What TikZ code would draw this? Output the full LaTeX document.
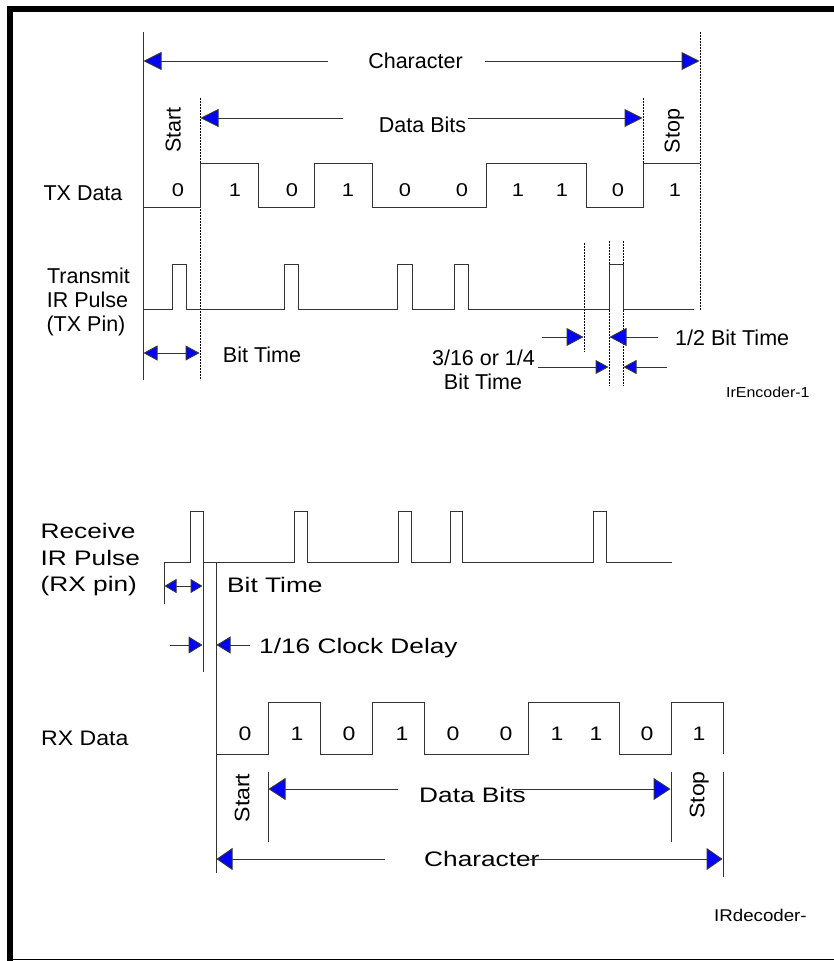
\documentclass[tikz,border=0pt]{standalone}
\usepackage{fontspec}
\setmainfont{Liberation Sans}
\newfontfamily\arialf{Liberation Sans}
\newfontfamily\arialw[FakeStretch=1.25]{Liberation Sans}
\newfontfamily\ariald[FakeStretch=1.18]{Liberation Sans}
\newfontfamily\arialm[FakeStretch=1.1]{Liberation Sans}
\usetikzlibrary{arrows.meta}
\tikzset{
  ln/.style={line width=1pt, draw=black!80},
  dsh/.style={line width=1pt, draw=black, dash pattern=on 2pt off 1pt},
  arr/.style 2 args={ln, -{Triangle[length=#1pt,width=#2pt,fill=blue]}},
  darr/.style 2 args={ln, {Triangle[length=#1pt,width=#2pt,fill=blue]}-{Triangle[length=#1pt,width=#2pt,fill=blue]}},
  tt/.style={inner sep=0pt, font=\arialf\fontsize{21.5}{24}\selectfont},
  td/.style={inner sep=0pt, font=\ariald\fontsize{18.5}{20}\selectfont},
  bt/.style={inner sep=0pt, font=\arialw\fontsize{21}{24}\selectfont},
  bd/.style={inner sep=0pt, font=\ariald\fontsize{19.5}{21}\selectfont},
  bm/.style={inner sep=0pt, font=\arialm\fontsize{21}{24}\selectfont},
  sm/.style={inner sep=0pt, font=\arialm\fontsize{14.5}{16}\selectfont},
  smb/.style={inner sep=0pt, font=\arialm\fontsize{17}{18}\selectfont},
}
\begin{document}
\begin{tikzpicture}[x=1pt,y=-1pt]
\useasboundingbox (0,0) rectangle (834,961);
\fill[white] (0,0) rectangle (834,961);
% frame
\fill[black] (7,6) rectangle (834,12);
\fill[black] (7,6) rectangle (13,961);
\draw[line width=1.5pt] (7,959.25) -- (834,959.25);

% ================= TOP (encoder) =================
% reference verticals
\draw[ln] (143,32) -- (143,380);
\draw[dsh] (200,98) -- (200,380);
\draw[dsh] (643,98) -- (643,207);
\draw[dsh] (700,32) -- (700,310);
\draw[dsh] (584,243) -- (584,352);
\draw[dsh] (609,241) -- (609,386);
\draw[dsh] (623,241) -- (623,386);

% Character arrow
\node[tt, anchor=base] (tchar) at (415.5,68.5) {Character};
\draw[arr={18}{18}] (328,61) -- (143.5,61);
\draw[arr={18}{18}] (485,61) -- (699.5,61);
% Data bits arrow
\node[tt, anchor=base] (tdata) at (422.5,132.5) {Data Bits};
\draw[arr={18}{18}] (343,118) -- (200.5,118);
\draw[arr={18}{18}] (468,118) -- (642.5,118);
% Start / Stop
\node[tt, rotate=90, text depth=0pt] (tstart) at (173,130) {Start};
\node[tt, rotate=90, text depth=0pt] (tstop) at (672,131) {Stop};

% TX data
\node[tt, anchor=base] (txdata) at (83,200) {TX Data};
\draw[ln] (143,207) -- (200,207) -- (200,163) -- (258,163) -- (258,207) -- (314,207)
  -- (314,163) -- (372,163) -- (372,207) -- (486,207) -- (486,163) -- (586,163)
  -- (586,207) -- (643,207) -- (643,163) -- (700,163);
\foreach \x/\d [count=\i] in {178/0,235/1,292/0,348/1,405/0,462/0,518/1,562/1,618/0,675/1}
  \node[td, anchor=base] (tb\i) at (\x,196.5) {\d};

% TX IR pulse
\node[tt, anchor=base] (tx1) at (88.5,283) {Transmit};
\node[tt, anchor=base] (tx2) at (87.5,307) {IR Pulse};
\node[tt, anchor=base] (tx3) at (86,331) {(TX Pin)};
\draw[ln] (143,309) -- (172,309) -- (172,264) -- (186,264) -- (186,309) -- (284,309)
  -- (284,264) -- (298,264) -- (298,309) -- (397,309) -- (397,264) -- (412,264)
  -- (412,309) -- (454,309) -- (454,264) -- (468,264) -- (468,309) -- (609,309)
  -- (609,264) -- (623,264) -- (623,309) -- (694,309);

% Bit time
\draw[darr={14}{15}] (143.5,353) -- (199.5,353);
\node[tt, anchor=base] (tbit) at (262,362) {Bit Time};

% 1/2 bit time
\draw[arr={17}{18}] (542,337) -- (583.5,337);
\draw[arr={17}{18}] (658,337) -- (609.5,337);
\node[tt, anchor=base west] (thalf) at (675,345) {1/2 Bit Time};
% 3/16 bit time
\draw[arr={13}{14}] (538,367) -- (608.5,367);
\draw[arr={13}{14}] (667,367) -- (623.5,367);
\node[tt, anchor=base] (t316) at (483.5,365) {3/16 or 1/4};
\node[tt, anchor=base] (t316b) at (483,389) {Bit Time};

\node[sm, anchor=base west] (enc) at (726,397) {IrEncoder-1};

% ================= BOTTOM (decoder) =================
\node[bt, anchor=base west] (rx1) at (40.5,538) {Receive};
\node[bt, anchor=base west] (rx2) at (40.5,565) {IR Pulse};
\node[bt, anchor=base west] (rx3) at (40.5,591) {(RX pin)};

\draw[ln] (164,562) -- (190,562) -- (190,511) -- (203,511) -- (203,562) -- (294,562)
  -- (294,511) -- (307,511) -- (307,562) -- (398,562) -- (398,511) -- (411,511)
  -- (411,562) -- (450,562) -- (450,511) -- (462,511) -- (462,562) -- (593,562)
  -- (593,511) -- (606,511) -- (606,562) -- (672,562);

\draw[ln] (164,562) -- (164,604);
\draw[ln] (203,562) -- (203,672);
\draw[ln] (216,563) -- (216,873);

\draw[darr={12}{14}] (164.5,586) -- (202.5,586);
\node[bt, anchor=base west] (rbit) at (227,592) {Bit Time};

\draw[arr={14}{17}] (170,645) -- (202.5,645);
\draw[arr={14}{17}] (250,645) -- (216.5,645);
\node[bt, anchor=base west] (rclk) at (259,653) {1/16 Clock Delay};

% RX data
\node[bm, anchor=base west] (rxdata) at (41,745) {RX Data};
\draw[ln] (216,754) -- (268,754) -- (268,702) -- (320,702) -- (320,754) -- (372,754)
  -- (372,702) -- (424,702) -- (424,754) -- (528,754) -- (528,702) -- (619,702)
  -- (619,754) -- (671,754) -- (671,702) -- (723,702) -- (723,754);
\foreach \x/\d [count=\i] in {245/0,297/1,349/0,402/1,453/0,506/0,557/1,596/1,647/0,699/1}
  \node[bd, anchor=base] (rb\i) at (\x,740) {\d};

\draw[ln] (268,772) -- (268,842);
\draw[ln] (671,772) -- (671,842);
\draw[ln] (723,772) -- (723,877);

\node[bm, rotate=90, text depth=0pt] (rstart) at (242,798) {Start};
\node[bm, rotate=90, text depth=0pt] (rstop) at (697,795) {Stop};

\node[bt, anchor=base west] (rdata) at (419,802.5) {Data Bits};
\draw[arr={17}{22}] (398,789) -- (268.5,789);
\draw[arr={17}{22}] (512,789) -- (670.5,789);

\node[bt, anchor=base west] (rchar) at (424,866.5) {Character};
\draw[arr={16}{22}] (385,859) -- (216.5,859);
\draw[arr={16}{22}] (530,859) -- (722.5,859);

\node[smb, anchor=base west] (dec) at (714,921) {IRdecoder-};
\end{tikzpicture}
\end{document}
